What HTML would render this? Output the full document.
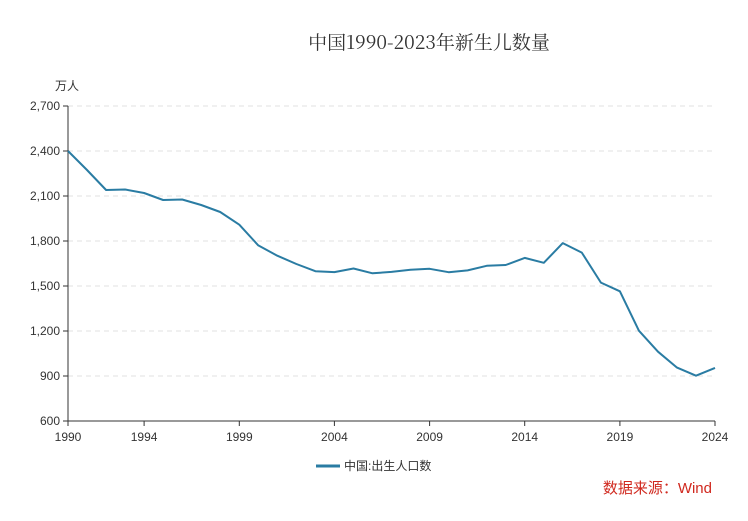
<!DOCTYPE html>
<html><head><meta charset="utf-8"><style>
html,body{margin:0;padding:0;background:#fff;}
svg text{font-family:"Liberation Sans","Noto Sans CJK SC",sans-serif;}
</style></head><body>
<svg width="748" height="516" viewBox="0 0 748 516" xmlns="http://www.w3.org/2000/svg">
<rect width="748" height="516" fill="#fff"/>
<text x="429" y="49" text-anchor="middle" font-size="19" fill="#333" style="font-family:'Noto Serif CJK SC','Liberation Serif',serif">中国1990-2023年新生儿数量</text>
<text x="55" y="90" font-size="12" fill="#333">万人</text>
<g stroke="#e0e0e0" stroke-dasharray="5,4" stroke-width="1">
<line x1="68" x2="715" y1="106" y2="106"/><line x1="68" x2="715" y1="151" y2="151"/>
<line x1="68" x2="715" y1="196" y2="196"/><line x1="68" x2="715" y1="241" y2="241"/>
<line x1="68" x2="715" y1="286" y2="286"/><line x1="68" x2="715" y1="331" y2="331"/>
<line x1="68" x2="715" y1="376" y2="376"/>
</g>
<g stroke="#333" stroke-width="1">
<line x1="68" x2="68" y1="106" y2="421"/><line x1="68" x2="715" y1="421" y2="421"/>
<line x1="63" x2="68" y1="106" y2="106"/><line x1="63" x2="68" y1="151" y2="151"/>
<line x1="63" x2="68" y1="196" y2="196"/><line x1="63" x2="68" y1="241" y2="241"/>
<line x1="63" x2="68" y1="286" y2="286"/><line x1="63" x2="68" y1="331" y2="331"/>
<line x1="63" x2="68" y1="376" y2="376"/><line x1="63" x2="68" y1="421" y2="421"/>
<line x1="68" x2="68" y1="421" y2="426"/><line x1="144.1" x2="144.1" y1="421" y2="426"/>
<line x1="239.3" x2="239.3" y1="421" y2="426"/><line x1="334.4" x2="334.4" y1="421" y2="426"/>
<line x1="429.6" x2="429.6" y1="421" y2="426"/><line x1="524.7" x2="524.7" y1="421" y2="426"/>
<line x1="619.9" x2="619.9" y1="421" y2="426"/><line x1="715" x2="715" y1="421" y2="426"/>
</g>
<g font-size="12" fill="#333" text-anchor="end">
<text x="60" y="110">2,700</text><text x="60" y="155">2,400</text><text x="60" y="200">2,100</text>
<text x="60" y="245">1,800</text><text x="60" y="290">1,500</text><text x="60" y="335">1,200</text>
<text x="60" y="380">900</text><text x="60" y="425">600</text>
</g>
<g font-size="12" fill="#333" text-anchor="middle">
<text x="68" y="441">1990</text><text x="144.1" y="441">1994</text><text x="239.3" y="441">1999</text>
<text x="334.4" y="441">2004</text><text x="429.6" y="441">2009</text><text x="524.7" y="441">2014</text>
<text x="619.9" y="441">2019</text><text x="715" y="441">2024</text>
</g>
<polyline fill="none" stroke="#2a7ca3" stroke-width="2" stroke-linejoin="round" points="68,151 87,170 106.1,190 125.1,189.5 144.1,193 163.1,200 182.2,199.5 201.2,205 220.2,212 239.3,224.7 258.3,245.4 277.3,255.7 296.4,264 315.4,271.2 334.4,272.1 353.5,268.5 372.5,273.3 391.5,271.9 410.5,269.8 429.6,268.8 448.6,272.2 467.6,270.4 486.7,265.8 505.7,265 524.7,257.9 543.8,262.8 562.8,243.1 581.8,252.6 600.9,282.6 619.9,291.3 638.9,330.7 658,351.7 677,367.6 696,375.7 715,367.9"/>
<line x1="316" x2="340" y1="466" y2="466" stroke="#2a7ca3" stroke-width="3"/>
<text x="344" y="470" font-size="12" fill="#333">中国:出生人口数</text>
<text x="712" y="493" text-anchor="end" font-size="15" fill="#d0281e">数据来源：Wind</text>
</svg>
</body></html>
